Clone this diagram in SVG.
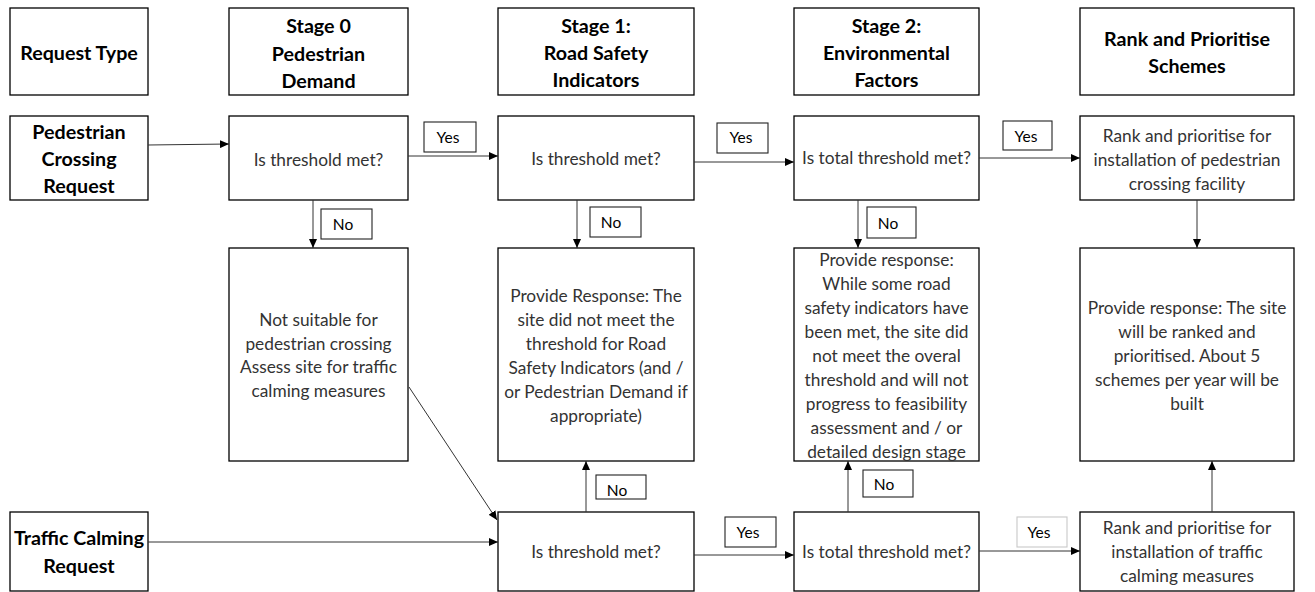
<svg xmlns="http://www.w3.org/2000/svg" width="1315" height="592" viewBox="0 0 1315 592">
<defs>
<marker id="ah" markerUnits="userSpaceOnUse" markerWidth="9" markerHeight="8" refX="9" refY="4" orient="auto">
<path d="M0,0 L9,4 L0,8 z" fill="#000"/>
</marker>
<style>
.box{fill:#fff;stroke:#000;stroke-width:1.3}
.lbl{fill:#fff;stroke:#222;stroke-width:1.1}
.lbl2{fill:#fff;stroke:#c8c8c8;stroke-width:1.1}
.hd{font-family:Lato,"Liberation Sans",sans-serif;font-weight:bold;font-size:19.7px;fill:#000;text-anchor:middle}
.tx{font-family:Lato,"Liberation Sans",sans-serif;font-size:17.3px;fill:#333;text-anchor:middle}
.lt{font-family:Lato,"Liberation Sans",sans-serif;font-size:15.5px;fill:#000;text-anchor:middle}
.cn line{stroke:#333;stroke-width:1;marker-end:url(#ah)}
</style>
</defs>
<rect width="1315" height="592" fill="#fff"/>

<g id="hdr-request-type"><rect class="box" x="10" y="8" width="138" height="87"/><text class="hd" x="79" y="60">Request Type</text></g>
<g id="hdr-stage0"><rect class="box" x="229" y="8" width="179" height="87"/><text class="hd" x="318.5" y="33">Stage 0</text><text class="hd" x="318.5" y="61">Pedestrian</text><text class="hd" x="318.5" y="88">Demand</text></g>
<g id="hdr-stage1"><rect class="box" x="498" y="8" width="196" height="87"/><text class="hd" x="596" y="33">Stage 1:</text><text class="hd" x="596" y="60">Road Safety</text><text class="hd" x="596" y="87">Indicators</text></g>
<g id="hdr-stage2"><rect class="box" x="794" y="8" width="185" height="87"/><text class="hd" x="886.5" y="33">Stage 2:</text><text class="hd" x="886.5" y="60">Environmental</text><text class="hd" x="886.5" y="87">Factors</text></g>
<g id="hdr-rank"><rect class="box" x="1080" y="8" width="214" height="87"/><text class="hd" x="1187" y="46">Rank and Prioritise</text><text class="hd" x="1187" y="73">Schemes</text></g>

<g id="pcr"><rect class="box" x="10" y="116" width="138" height="84"/><text class="hd" x="79" y="139">Pedestrian</text><text class="hd" x="79" y="166">Crossing</text><text class="hd" x="79" y="193">Request</text></g>
<g id="s0-q"><rect class="box" x="229" y="116" width="179" height="84"/><text class="tx" x="318.5" y="166">Is threshold met?</text></g>
<g id="s1-q"><rect class="box" x="498" y="116" width="196" height="84"/><text class="tx" x="596" y="165">Is threshold met?</text></g>
<g id="s2-q"><rect class="box" x="794" y="116" width="185" height="84"/><text class="tx" x="886.5" y="164">Is total threshold met?</text></g>
<g id="rank-ped"><rect class="box" x="1080" y="116" width="214" height="84"/><text class="tx" x="1187" y="142">Rank and prioritise for</text><text class="tx" x="1187" y="166">installation of pedestrian</text><text class="tx" x="1187" y="190">crossing facility</text></g>

<g id="s0-no"><rect class="box" x="229" y="248" width="179" height="213"/><text class="tx" x="318.5" y="326">Not suitable for</text><text class="tx" x="318.5" y="350">pedestrian crossing</text><text class="tx" x="318.5" y="373">Assess site for traffic</text><text class="tx" x="318.5" y="397">calming measures</text></g>
<g id="s1-no"><rect class="box" x="498" y="248" width="196" height="213"/><text class="tx" x="596" y="302">Provide Response: The</text><text class="tx" x="596" y="326">site did not meet the</text><text class="tx" x="596" y="350">threshold for Road</text><text class="tx" x="596" y="374">Safety Indicators (and /</text><text class="tx" x="596" y="398">or Pedestrian Demand if</text><text class="tx" x="596" y="422">appropriate)</text></g>
<g id="s2-no"><rect class="box" x="794" y="248" width="185" height="213"/><text class="tx" x="886.5" y="266">Provide response:</text><text class="tx" x="886.5" y="290">While some road</text><text class="tx" x="886.5" y="314">safety indicators have</text><text class="tx" x="886.5" y="338">been met, the site did</text><text class="tx" x="886.5" y="362">not meet the overal</text><text class="tx" x="886.5" y="386">threshold and will not</text><text class="tx" x="886.5" y="410">progress to feasibility</text><text class="tx" x="886.5" y="434">assessment and / or</text><text class="tx" x="886.5" y="458">detailed design stage</text></g>
<g id="rank-resp"><rect class="box" x="1080" y="248" width="214" height="213"/><text class="tx" x="1187" y="314">Provide response: The site</text><text class="tx" x="1187" y="338">will be ranked and</text><text class="tx" x="1187" y="362">prioritised. About 5</text><text class="tx" x="1187" y="386">schemes per year will be</text><text class="tx" x="1187" y="410">built</text></g>

<g id="tcr"><rect class="box" x="10" y="512" width="138" height="79"/><text class="hd" x="79" y="545">Traffic Calming</text><text class="hd" x="79" y="573">Request</text></g>
<g id="s1-q2"><rect class="box" x="498" y="512" width="196" height="79"/><text class="tx" x="596" y="558">Is threshold met?</text></g>
<g id="s2-q2"><rect class="box" x="794" y="512" width="185" height="79"/><text class="tx" x="886.5" y="558">Is total threshold met?</text></g>
<g id="rank-tc"><rect class="box" x="1080" y="512" width="214" height="79"/><text class="tx" x="1187" y="534">Rank and prioritise for</text><text class="tx" x="1187" y="558">installation of traffic</text><text class="tx" x="1187" y="582">calming measures</text></g>

<g id="connectors" class="cn">
<line x1="148" y1="145" x2="229" y2="144"/>
<line x1="408" y1="156" x2="498" y2="156"/>
<line x1="694" y1="162" x2="794" y2="162"/>
<line x1="979" y1="158" x2="1080" y2="158"/>
<line x1="313" y1="200" x2="313" y2="248"/>
<line x1="577" y1="200" x2="577" y2="248"/>
<line x1="858" y1="200" x2="858" y2="248"/>
<line x1="1197" y1="200" x2="1197" y2="248"/>
<line x1="409" y1="387" x2="497" y2="520"/>
<line x1="148" y1="542" x2="498" y2="542"/>
<line x1="586" y1="512" x2="586" y2="461"/>
<line x1="694" y1="555" x2="794" y2="555"/>
<line x1="848" y1="512" x2="848" y2="461"/>
<line x1="979" y1="551" x2="1080" y2="551"/>
<line x1="1212" y1="512" x2="1212" y2="461"/>
</g>

<g id="labels">
<g id="lbl-yes1"><rect class="lbl" x="424" y="122" width="52" height="30"/><text class="lt" x="448" y="143">Yes</text></g>
<g id="lbl-yes2"><rect class="lbl" x="717" y="123" width="51" height="30"/><text class="lt" x="741" y="143">Yes</text></g>
<g id="lbl-yes3"><rect class="lbl" x="1003" y="121" width="49" height="29"/><text class="lt" x="1026" y="142">Yes</text></g>
<g id="lbl-no1"><rect class="lbl" x="321" y="209" width="51" height="30"/><text class="lt" x="343" y="230">No</text></g>
<g id="lbl-no2"><rect class="lbl" x="590" y="207" width="51" height="30"/><text class="lt" x="611" y="228">No</text></g>
<g id="lbl-no3"><rect class="lbl" x="867" y="207" width="49" height="31"/><text class="lt" x="888" y="229">No</text></g>
<g id="lbl-no4"><rect class="lbl" x="596" y="475" width="50" height="24"/><text class="lt" x="617" y="496">No</text></g>
<g id="lbl-no5"><rect class="lbl" x="863" y="470" width="50" height="27"/><text class="lt" x="884" y="490">No</text></g>
<g id="lbl-yes4"><rect class="lbl" x="725" y="517" width="51" height="30"/><text class="lt" x="748" y="538">Yes</text></g>
<g id="lbl-yes5"><rect class="lbl2" x="1017" y="517" width="50" height="30"/><text class="lt" x="1039" y="538">Yes</text></g>
</g>
</svg>
